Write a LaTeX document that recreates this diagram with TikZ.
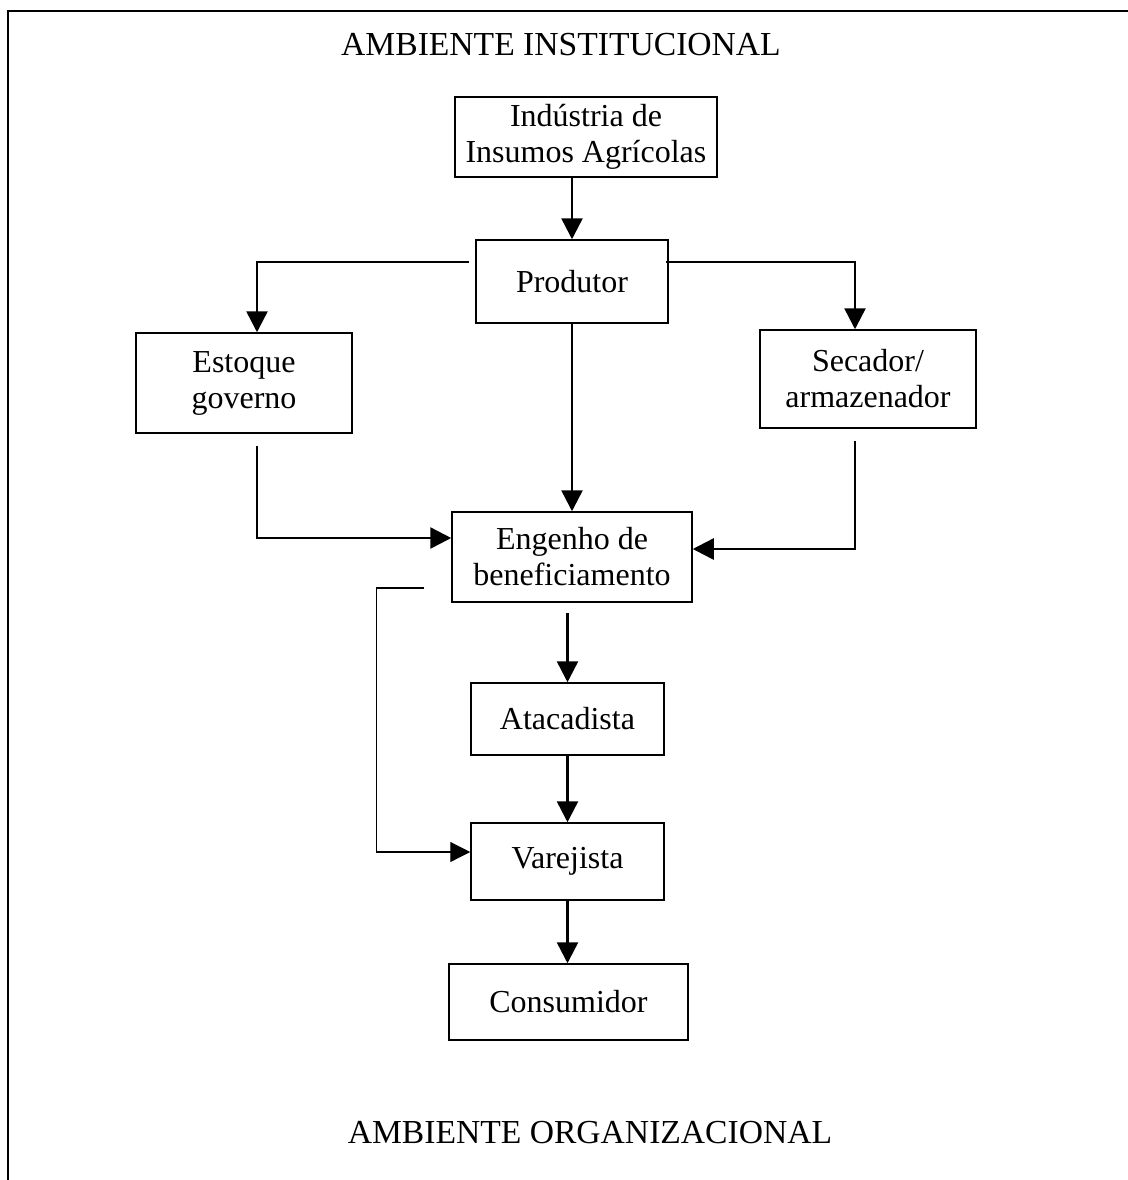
\documentclass[tikz,border=0pt]{standalone}
\usepackage{fontspec}
\setmainfont{Liberation Serif}
\usepackage{tikz}
\usetikzlibrary{arrows.meta,positioning}

\begin{document}
\begin{tikzpicture}[x=0.5pt,y=-0.5pt,
    font=\fontsize{16}{18}\selectfont,
    box/.style={draw,line width=0.75pt,align=center,inner sep=0pt},
    title/.style={align=center,font=\fontsize{16.8}{19}\selectfont},
    arr/.style={-{Triangle[length=10.5pt,width=10.5pt]},line width=1.25pt},
    thinarr/.style={-{Triangle[length=10pt,width=10pt]},line width=0.6pt}]
   \useasboundingbox (0,0) rectangle (1128,1180);
   % frame: only top and left sides
   \draw[line width=1pt] (1128,11) -- (8,11) -- (8,1180);
   \node[title] (inst) at (561,45)   {AMBIENTE INSTITUCIONAL};
   \node[title] (org)  at (590,1133) {AMBIENTE ORGANIZACIONAL};
   \node[box,minimum width=131pt,minimum height=40pt]   (ind)  at (586,137)    {Indústria de\\Insumos Agrícolas};
   \node[box,minimum width=96pt,minimum height=41.5pt]  (prod) at (572,281.5)  {Produtor};
   \node[box,minimum width=108pt,minimum height=50pt]   (est)  at (244,383)    {Estoque\\governo};
   \node[box,minimum width=108pt,minimum height=49pt]   (sec)  at (868,379)    {Secador/\\armazenador};
   \node[box,minimum width=120pt,minimum height=45pt]   (eng)  at (572,557)    {Engenho de\\beneficiamento};
   \node[box,minimum width=96.5pt,minimum height=36pt]  (atac) at (567.5,719)  {Atacadista};
   \node[box,minimum width=96.5pt,minimum height=38.5pt] (var) at (567.5,861.5) {Varejista};
   \node[box,minimum width=119.5pt,minimum height=38pt] (cons) at (568.5,1002) {Consumidor};
   % flows
   \draw[arr] (ind.south -| prod.north) -- (prod.north);
   \draw[arr] ([xshift=-3pt,yshift=9.75pt]prod.west) -| ([xshift=6.5pt]est.north);
   \draw[arr] ([xshift=-1.5pt,yshift=9.75pt]prod.east) -| ([xshift=-6.5pt]sec.north);
   \draw[arr] (prod.south) -- (eng.north);
   \draw[arr] ([xshift=6.5pt,yshift=-6pt]est.south) |- ([yshift=9.5pt]eng.west);
   \draw[arr] ([xshift=-6.5pt,yshift=-6pt]sec.south) |- ([yshift=4pt]eng.east);
   \draw[arr,shorten <=5pt] (eng.south -| atac.north) -- (atac.north);
   \draw[arr] (atac) -- (var);
   \draw[arr] (var.south) -- (var.south |- cons.north);
   % direct sale to retail
   \draw[thinarr] ([xshift=-13.5pt,yshift=-15.5pt]eng.west) -- ++(-24pt,0) |- ([yshift=4.75pt]var.west);
\end{tikzpicture}
\end{document}
